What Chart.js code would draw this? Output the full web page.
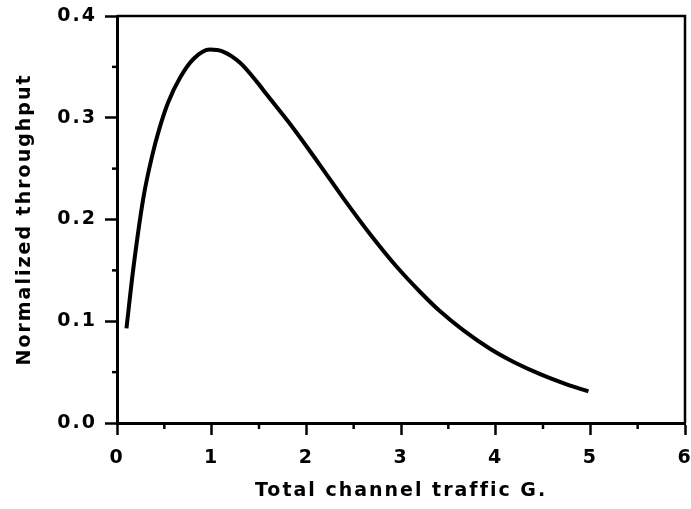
<!DOCTYPE html>
<html>
<head>
<meta charset="utf-8">
<script src="https://cdn.jsdelivr.net/npm/chart.js@4"></script>
<style>
  html, body { margin: 0; padding: 0; background: #fff; }
  #wrap { width: 691px; height: 509px; }
</style>
</head>
<body>
<div id="wrap"><canvas id="throughput"></canvas></div>
<script>
// total channel traffic G and the normalized throughput
const trafficG = [0.10, 0.17, 0.28, 0.37, 0.45, 0.54, 0.67, 0.81, 0.98, 1.12,
  1.30, 1.48, 1.58, 1.86, 2.14, 2.39, 2.67, 2.95, 3.20, 3.41,
  3.66, 3.94, 4.19, 4.47, 4.75, 4.98];
const throughput = [0.093, 0.150, 0.222, 0.262, 0.290, 0.315, 0.340, 0.358, 0.367, 0.365,
  0.354, 0.335, 0.323, 0.290, 0.254, 0.221, 0.186, 0.154, 0.129, 0.110,
  0.091, 0.073, 0.060, 0.048, 0.038, 0.031];

const xTickLabels = ['0', '1', '2', '3', '4', '5', '6'];
const yTickLabels = ['0.0', '0.1', '0.2', '0.3', '0.4'];

const FONT = { family: '"DejaVu Sans", sans-serif', size: 19, weight: 'bold' };
const INK = '#000';

const isMajor = (v, step) => Math.abs(v / step - Math.round(v / step)) < 1e-6;

// short ticks between the labelled ones, plus the top and right frame lines
const frame = {
  id: 'frame',
  beforeDraw(chart) {
    chart.ctx.letterSpacing = '2px';
  },
  afterDraw(chart) {
    const { ctx, chartArea: a, scales: { x, y } } = chart;
    ctx.save();
    ctx.strokeStyle = INK;
    ctx.lineWidth = 2.5;
    ctx.beginPath();
    ctx.moveTo(a.left, a.top);
    ctx.lineTo(a.right, a.top);
    ctx.lineTo(a.right, a.bottom);
    ctx.stroke();
    x.ticks.forEach(t => {
      if (isMajor(t.value, 1)) return;
      const px = x.getPixelForValue(t.value);
      ctx.beginPath();
      ctx.moveTo(px, a.bottom);
      ctx.lineTo(px, a.bottom + 6);
      ctx.stroke();
    });
    y.ticks.forEach(t => {
      if (isMajor(t.value, 0.1)) return;
      const py = y.getPixelForValue(t.value);
      ctx.beginPath();
      ctx.moveTo(a.left, py);
      ctx.lineTo(a.left - 5, py);
      ctx.stroke();
    });
    ctx.restore();
  }
};

new Chart(document.getElementById('throughput'), {
  type: 'line',
  data: {
    datasets: [{
      label: 'Throughput',
      data: trafficG.map((g, i) => ({ x: g, y: throughput[i] })),
      borderColor: INK,
      borderWidth: 4,
      pointRadius: 0,
      cubicInterpolationMode: 'monotone',
      fill: false
    }]
  },
  options: {
    responsive: true,
    maintainAspectRatio: false,
    animation: false,
    layout: { padding: { top: 16, right: 6, bottom: 2, left: 0 } },
    plugins: { legend: { display: false }, tooltip: { enabled: false } },
    scales: {
      x: {
        type: 'linear',
        min: 0,
        max: 6,
        afterFit: s => { s.height = 84; s.paddingLeft = 0; s.paddingRight = 0; },
        border: { display: true, color: INK, width: 3 },
        grid: {
          drawOnChartArea: false,
          tickLength: 12,
          tickWidth: 2.5,
          tickColor: c => isMajor(c.tick.value, 1) ? INK : 'rgba(0,0,0,0)'
        },
        ticks: {
          stepSize: 0.5,
          color: INK,
          font: FONT,
          padding: 12,
          maxRotation: 0,
          autoSkip: false,
          callback: v => isMajor(v, 1) ? xTickLabels[Math.round(v)] : ''
        },
        title: {
          display: true,
          text: 'Total channel traffic G.',
          color: INK,
          font: FONT,
          padding: { top: 4, bottom: 5 }
        }
      },
      y: {
        min: 0,
        max: 0.4,
        afterFit: s => { s.width = 117; s.paddingTop = 0; s.paddingBottom = 0; },
        border: { display: true, color: INK, width: 3 },
        grid: {
          drawOnChartArea: false,
          tickLength: 12,
          tickWidth: 2.5,
          tickColor: c => isMajor(c.tick.value, 0.1) ? INK : 'rgba(0,0,0,0)'
        },
        ticks: {
          stepSize: 0.05,
          color: INK,
          font: FONT,
          padding: 8,
          autoSkip: false,
          callback: v => isMajor(v, 0.1) ? yTickLabels[Math.round(v * 10)] : ''
        },
        title: {
          display: true,
          text: 'Normalized throughput',
          color: INK,
          font: FONT,
          padding: { top: 14, bottom: 0 }
        }
      }
    }
  },
  plugins: [frame]
});
</script>
</body>
</html>
